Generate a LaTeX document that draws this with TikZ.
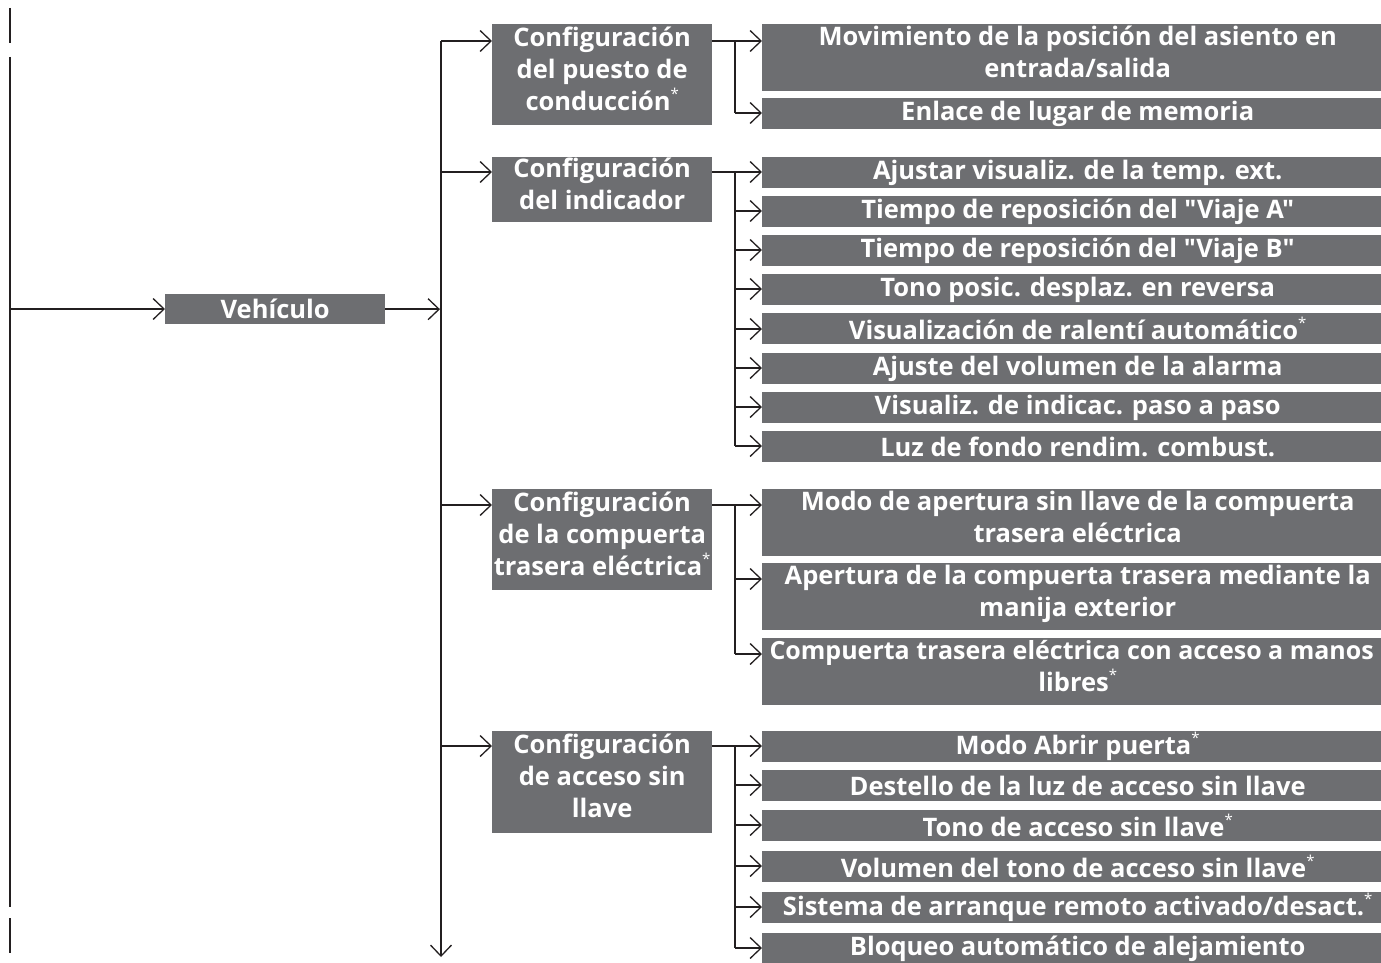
\documentclass[tikz,border=0pt]{standalone}
\usepackage{fontspec}
\setmainfont{Open Sans}[Ligatures=TeXOff]
\usetikzlibrary{arrows.meta}
\definecolor{boxgrey}{HTML}{6D6E71}
\definecolor{linek}{HTML}{231F20}
\newcommand{\stp}{\raisebox{0.42em}{\normalfont\fontsize{15}{15}\selectfont *}}
\newcommand{\sh}{\hspace*{12pt}}
\tikzset{
  box/.style={fill=boxgrey, text=white, font=\bfseries\fontsize{25.5}{32}\selectfont,
    align=center, inner sep=0pt, anchor=north west},
  vbox/.style={box, minimum width=220pt, minimum height=30pt},
  ltwo/.style={box, minimum width=220pt},
  ltwom/.style={ltwo, text depth=12pt},
  lthree/.style={box, minimum width=619pt, minimum height=31pt},
  lthreeb/.style={box, minimum width=619pt, minimum height=67pt, text depth=12pt},
  conn/.style={draw=linek, line width=2pt},
  arr/.style={conn, -{Straight Barb[length=11pt,width=21pt,line width=1.3pt]}},
}
\begin{document}
\begin{tikzpicture}[x=1pt,y=-1pt]
\useasboundingbox (0,0) rectangle (1381,963);
% left rule
\coordinate (l1) at (10,8);  \coordinate (l2) at (10,43);
\coordinate (l3) at (10,57); \coordinate (l4) at (10,907);
\coordinate (l5) at (10,918);\coordinate (l6) at (10,953);
\coordinate (lv) at (10,309);
\draw[conn] (l1) -- (l2);
\draw[conn] (l3) -- (l4);
\draw[conn] (l5) -- (l6);

% Vehiculo
\node[vbox] (veh) at (165,294) {Vehículo};
\draw[arr] (lv) -- (veh.west |- lv);

% main vertical
\coordinate (mtop) at (441,41);
\coordinate (mbot) at (441,957);
\draw[arr] (mtop) -- (mbot);
\draw[arr] (veh.east) -- ([xshift=-1pt]veh.east -| mtop);

% level 2
\node[ltwom, minimum height=101pt] (b1) at (492,24) {Configuración\\del puesto de\\conducción\stp};
\node[ltwom, minimum height=65pt]  (b2) at (492,157) {Configuración\\del indicador};
\node[ltwom, minimum height=101pt] (b3) at (492,489) {Configuración\\de la compuerta\\trasera eléctrica\stp};
\node[ltwom, minimum height=102pt] (b4) at (492,731) {Configuración\\de acceso sin\\llave};

\coordinate (m1) at (441,41);
\coordinate (m2) at (441,172);
\coordinate (m3) at (441,505);
\coordinate (m4) at (441,746);
\foreach \i in {1,2,3,4} { \draw[arr] (m\i) -- (b\i.west |- m\i); }

% level 3 group 1
\node[lthreeb] (c11) at (762,24) {\sh Movimiento de la posición del asiento en\\\sh entrada/salida};
\node[lthree]  (c12) at (762,98) {\sh Enlace de lugar de memoria};
% group 2
\node[lthree] (c21) at (762,157) {\sh Ajustar visualiz. de la temp. ext.};
\node[lthree] (c22) at (762,196) {\sh Tiempo de reposición del "Viaje A"};
\node[lthree] (c23) at (762,235) {\sh Tiempo de reposición del "Viaje B"};
\node[lthree] (c24) at (762,274) {\sh Tono posic. desplaz. en reversa};
\node[lthree] (c25) at (762,313) {\sh Visualización de ralentí automático\stp};
\node[lthree] (c26) at (762,353) {\sh Ajuste del volumen de la alarma};
\node[lthree] (c27) at (762,392) {\sh Visualiz. de indicac. paso a paso};
\node[lthree] (c28) at (762,431) {\sh Luz de fondo rendim. combust.};
% group 3
\node[lthreeb] (c31) at (762,489) {\sh Modo de apertura sin llave de la compuerta\\\sh trasera eléctrica};
\node[lthreeb] (c32) at (762,563) {\sh Apertura de la compuerta trasera mediante la\\\sh manija exterior};
\node[lthreeb] (c33) at (762,638) {{\fontsize{25}{32}\selectfont Compuerta trasera eléctrica con acceso a manos}\\\sh libres\stp};
% group 4
\node[lthree] (c41) at (762,731) {\sh Modo Abrir puerta\stp};
\node[lthree] (c42) at (762,770) {\sh Destello de la luz de acceso sin llave};
\node[lthree] (c43) at (762,810) {\sh Tono de acceso sin llave\stp};
\node[lthree] (c44) at (762,851) {\sh Volumen del tono de acceso sin llave\stp};
\node[lthree] (c45) at (762,892) {\sh Sistema de arranque remoto activado/desact.\stp};
\node[lthree] (c46) at (762,933) {\sh Bloqueo automático de alejamiento};

% branch coordinates
\coordinate (p11) at (735,41);  \coordinate (p12) at (735,113);
\coordinate (p21) at (735,172); \coordinate (p22) at (735,211);
\coordinate (p23) at (735,250); \coordinate (p24) at (735,289);
\coordinate (p25) at (735,329); \coordinate (p26) at (735,368);
\coordinate (p27) at (735,407); \coordinate (p28) at (735,446);
\coordinate (p31) at (735,505); \coordinate (p32) at (735,579);
\coordinate (p33) at (735,654);
\coordinate (p41) at (735,746); \coordinate (p42) at (735,785);
\coordinate (p43) at (735,825); \coordinate (p44) at (735,866);
\coordinate (p45) at (735,907); \coordinate (p46) at (735,948);

% group 1 connectors
\draw[conn] (b1.east |- p11) -- (p11);
\draw[conn] (p11) -- (p12);
\foreach \j in {1,2} { \draw[arr] (p1\j) -- (c1\j.west |- p1\j); }
% group 2
\draw[conn] (b2.east |- p21) -- (p21);
\draw[conn] (p21) -- (p28);
\foreach \j in {1,...,8} { \draw[arr] (p2\j) -- (c2\j.west |- p2\j); }
% group 3
\draw[conn] (b3.east |- p31) -- (p31);
\draw[conn] (p31) -- (p33);
\foreach \j in {1,2,3} { \draw[arr] (p3\j) -- (c3\j.west |- p3\j); }
% group 4
\draw[conn] (b4.east |- p41) -- (p41);
\draw[conn] (p41) -- (p46);
\foreach \j in {1,...,6} { \draw[arr] (p4\j) -- (c4\j.west |- p4\j); }
\end{tikzpicture}
\end{document}
